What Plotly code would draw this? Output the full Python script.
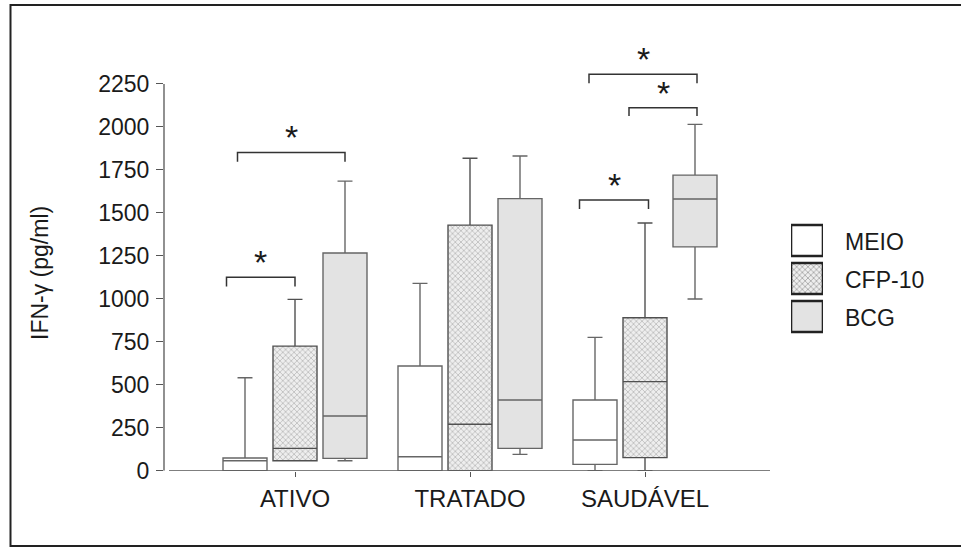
import plotly.graph_objects as go

# IFN-gamma release (pg/ml) by patient group and stimulus
groups = ["ATIVO", "TRATADO", "SAUDÁVEL"]
series = ["MEIO", "CFP-10", "BCG"]

# per-series box statistics, one value per group
lower = {"MEIO": [0, 0, 0], "CFP-10": [58, 0, 0], "BCG": [58, 95, 999]}
q1 = {"MEIO": [0, 0, 37], "CFP-10": [58, 0, 76], "BCG": [72, 130, 1302]}
median = {"MEIO": [58, 81, 179], "CFP-10": [130, 270, 518], "BCG": [318, 411, 1581]}
q3 = {"MEIO": [74, 609, 411], "CFP-10": [725, 1429, 890], "BCG": [1267, 1583, 1720]}
upper = {"MEIO": [541, 1090, 776], "CFP-10": [997, 1818, 1441], "BCG": [1685, 1831, 2015]}

y_ticks = [0, 250, 500, 750, 1000, 1250, 1500, 1750, 2000, 2250]

# significance brackets: group, left / right end (in box slots), top level, drop
brackets = [
    (0, -1.15, 1.00, 1852, 54),
    (0, -1.37, 0.00, 1125, 54),
    (2, -1.12, 1.04, 2306, 52),
    (2, -0.32, 1.04, 2112, 48),
    (2, -1.31, 0.07, 1575, 52),
]

# ---- styling -------------------------------------------------------------
W, H = 961, 551
FONT = "Liberation Sans, Arial, sans-serif"
fill = {"MEIO": "#ffffff", "CFP-10": "rgba(0,0,0,0)", "BCG": "#e3e3e3"}
edge = {"MEIO": "#666666", "CFP-10": "#505050", "BCG": "#666666"}
HATCH = dict(size=4, solidity=0.33, fgcolor="#7a7a7a")
SLOT = 50 / 175          # distance between neighbouring boxes, in group units
BOX_W = 44 / 175         # box width, in group units


def px_x(p):
    return p / W


def px_y(p):
    return 1 - p / H


fig = go.Figure()

# crosshatch fill of the CFP-10 boxes (drawn under the box outlines)
cfp_x = [g + 0 * SLOT for g in range(len(groups))]
fig.add_trace(go.Bar(
    x=cfp_x,
    base=q1["CFP-10"],
    y=[b - a for a, b in zip(q1["CFP-10"], q3["CFP-10"])],
    width=BOX_W,
    marker=dict(color="#eeeeee", line=dict(width=0), pattern=dict(shape="x", **HATCH)),
    showlegend=False, hoverinfo="skip",
))

for k, s in enumerate(series):
    off = (k - 1) * SLOT
    fig.add_trace(go.Box(
        name=s,
        x=[g + off for g in range(len(groups))],
        lowerfence=lower[s], q1=q1[s], median=median[s], q3=q3[s], upperfence=upper[s],
        width=BOX_W, whiskerwidth=0.34,
        fillcolor=fill[s], line=dict(color=edge[s], width=1.4),
        boxpoints=False, showlegend=False, hoverinfo="skip",
    ))

# legend swatches on their own small hidden axes
fig.add_trace(go.Bar(
    x=[1] * len(series), y=list(range(len(series))), orientation="h",
    width=31 / 38, base=0,
    marker=dict(color=["#ffffff", "#eeeeee", "#e3e3e3"],
                line=dict(color="#222222", width=2.6),
                pattern=dict(shape=["", "x", ""], **HATCH)),
    xaxis="x2", yaxis="y2", showlegend=False, hoverinfo="skip", cliponaxis=False,
))

annotations = []
for i, s in enumerate(series):
    annotations.append(dict(
        x=px_x(843), y=px_y(241.5 + 38 * i), xref="paper", yref="paper",
        text=s, showarrow=False, xanchor="left", yanchor="middle",
        font=dict(family=FONT, size=23, color="#1a1a1a"),
    ))

annotations.append(dict(
    x=px_x(40), y=px_y(273), xref="paper", yref="paper", text="IFN-γ (pg/ml)",
    textangle=-90, showarrow=False, xanchor="center", yanchor="middle",
    font=dict(family=FONT, size=23, color="#1a1a1a"),
))

shapes = []
for g, a, b, top, drop in brackets:
    x0, x1 = g + a * SLOT, g + b * SLOT
    shapes.append(dict(
        type="path", xref="x", yref="y",
        path=f"M {x0},{top - drop} L {x0},{top} L {x1},{top} L {x1},{top - drop}",
        line=dict(color="#333333", width=1.5),
    ))
    annotations.append(dict(
        x=(x0 + x1) / 2, y=top, xref="x", yref="y", text="*", showarrow=False,
        xanchor="center", yanchor="bottom", yshift=-6,
        font=dict(family=FONT, size=34, color="#1a1a1a"),
    ))

# axis lines
shapes.append(dict(type="line", xref="paper", yref="y", x0=px_x(164), x1=px_x(164),
                   y0=0, y1=y_ticks[-1], line=dict(color="#555555", width=1.3)))
shapes.append(dict(type="line", xref="paper", yref="y", x0=px_x(169), x1=px_x(770),
                   y0=0, y1=0, line=dict(color="#555555", width=1.3)))
# outer frame
shapes.append(dict(type="rect", xref="paper", yref="paper", x0=px_x(10.5), x1=1.02,
                   y0=px_y(546), y1=px_y(5), line=dict(color="#222222", width=2)))

fig.update_layout(
    width=W, height=H, margin=dict(l=0, r=0, t=0, b=0, pad=0), autosize=False,
    paper_bgcolor="white", plot_bgcolor="white",
    barmode="overlay", showlegend=False,
    xaxis=dict(
        domain=[px_x(164), px_x(770)], range=[-131 / 175, 475 / 175], automargin=False,
        tickmode="array", tickvals=list(range(len(groups))), ticktext=groups,
        ticks="outside", ticklen=5, tickcolor="#555555", tickwidth=1.2,
        showgrid=False, zeroline=False, showline=False, ticklabelstandoff=1,
        tickfont=dict(family=FONT, size=24, color="#1a1a1a"),
    ),
    yaxis=dict(
        domain=[px_y(470.7), px_y(58.2)], range=[0, 2400], automargin=False,
        tickmode="array", tickvals=y_ticks,
        ticks="outside", ticklen=7, tickcolor="#555555", tickwidth=1.2,
        showgrid=False, zeroline=False, showline=False, ticklabelstandoff=2,
        tickfont=dict(family=FONT, size=23, color="#1a1a1a"),
    ),
    xaxis2=dict(domain=[px_x(791), px_x(823)], range=[0, 1], visible=False,
                anchor="y2", fixedrange=True, automargin=False),
    yaxis2=dict(domain=[px_y(335.5), px_y(221.5)], range=[2.5, -0.5], visible=False,
                anchor="x2", fixedrange=True, automargin=False),
    shapes=shapes, annotations=annotations,
)

fig.write_html("out.html")
